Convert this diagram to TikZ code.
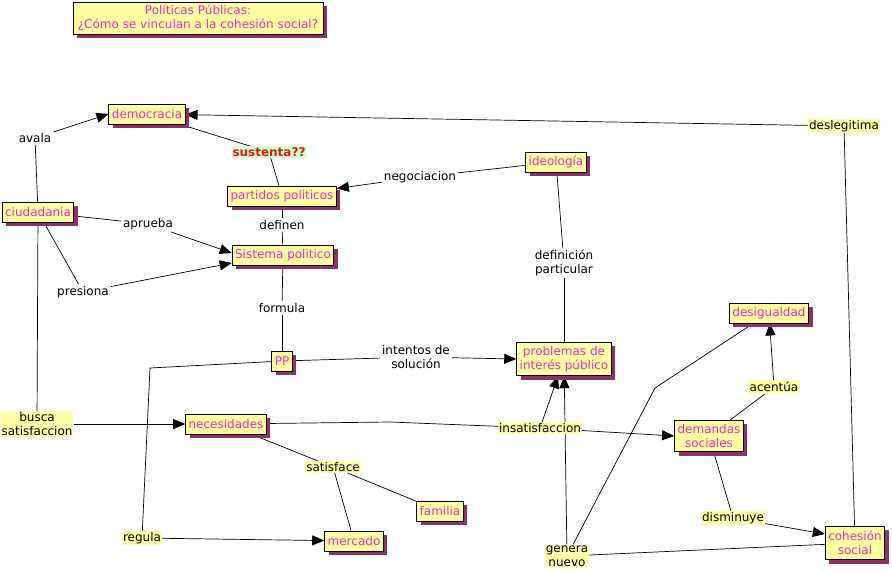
\documentclass[tikz,border=0pt]{standalone}
\usepackage{fontspec}
\setmainfont{DejaVu Sans}
\usetikzlibrary{arrows.meta,shadows,backgrounds}
\definecolor{boxy}{RGB}{255,255,160}
\definecolor{laby}{RGB}{255,255,170}
\definecolor{pinkc}{RGB}{240,40,200}
\definecolor{shadowc}{RGB}{140,50,100}
\definecolor{greenbg}{RGB}{215,250,215}
\definecolor{redt}{RGB}{215,30,10}
\begin{document}
\begin{tikzpicture}[x=1pt,y=-1pt,font=\fontsize{12}{14}\selectfont,
  concept/.style={draw=black,line width=0.9pt,fill=boxy,text=pinkc,inner xsep=3pt,inner ysep=2pt,minimum height=20pt,align=center,
    drop shadow={shadow xshift=4pt,shadow yshift=-4pt,fill=shadowc,opacity=1}},
  tall/.style={inner ysep=4pt},
  lab/.style={inner sep=2pt,text=black,align=center},
  ylab/.style={lab,fill=laby},
  conn/.style={line width=0.7pt,draw=black},
  arr/.style={conn,-{Triangle[length=12pt,width=10pt]}}]
\useasboundingbox (0,0) rectangle (892,571);

% concepts
\node[concept,minimum width=250pt,minimum height=32pt] (title) at (198,18) {Políticas Públicas:\\¿Cómo se vinculan a la cohesión social?};
\node[concept] (demo) at (147,114) {democracia};
\node[concept] (ciud) at (38,212) {ciudadania};
\node[concept] (part) at (282,196) {partidos politicos};
\node[concept] (ideo) at (556,162) {ideología};
\node[concept] (sist) at (283,255) {Sistema politico};
\node[concept] (pp) at (282,361) {PP};
\node[concept,tall] (prob) at (564,359) {problemas de\\interés público};
\node[concept] (desig) at (769,313) {desigualdad};
\node[concept] (nece) at (226,424) {necesidades};
\node[concept,tall] (dema) at (709,436) {demandas\\sociales};
\node[concept] (fami) at (440,511) {familia};
\node[concept] (merc) at (354,541) {mercado};
\node[concept,tall,inner ysep=5pt] (cohe) at (855,543) {cohesión\\social};

% link labels
\node[lab] (avala) at (35,138) {avala};
\node[lab,fill=greenbg,text=redt,font=\fontsize{12}{14}\selectfont\bfseries,inner sep=1pt] (sust) at (269,152) {sustenta??};
\node[lab] (nego) at (420,177) {negociacion};
\node[lab] (defi) at (282,225) {definen};
\node[lab] (aprueba) at (148,224) {aprueba};
\node[lab] (pres) at (83,292) {presiona};
\node[lab] (form) at (282,308) {formula};
\node[lab] (defp) at (564,263) {definición\\particular};
\node[lab] (inte) at (416,357) {intentos de\\solución};
\node[ylab] (acen) at (774,387) {acentúa};
\node[ylab,inner sep=1pt] (busca) at (37,424) {busca\\satisfaccion};
\node[ylab,inner sep=1pt] (insat) at (540,428) {insatisfaccion};
\node[ylab,inner sep=1pt] (satis) at (333,467) {satisface};
\node[ylab,inner sep=1pt] (regula) at (142,538) {regula};
\node[ylab,inner sep=1pt] (dism) at (733,518) {disminuye};
\node[ylab,inner sep=1pt] (gen) at (567,556) {genera\\nuevo};
\node[ylab,inner sep=1pt] (desl) at (844,126) {deslegitima};

\coordinate (bendN) at (390,422);
\coordinate (bendD) at (655,388);
\coordinate (bendP) at (150,368);

\begin{pgfonlayer}{background}
\draw[conn] (ciud) -- (avala);
\draw[arr] (avala) -- (demo.west);
\draw[conn] (demo) -- (sust);
\draw[conn] (sust) -- (part);
\draw[conn] (ideo) -- (nego);
\draw[arr] (nego) -- (part);
\draw[conn] (part) -- (defi);
\draw[conn] (defi) -- (sist);
\draw[conn] (ciud) -- (aprueba);
\draw[arr] (aprueba) -- ([yshift=2pt]sist.west);
\draw[conn] (ciud) -- (pres);
\draw[arr] (pres) -- ([yshift=-8pt]sist.west);
\draw[conn] (sist) -- (form);
\draw[conn] (form) -- (pp);
\draw[conn] (ideo) -- (defp);
\draw[conn] (defp) -- (prob);
\draw[conn] (pp) -- (inte);
\draw[arr] (inte) -- (prob.west);
\draw[conn] (ciud) -- (busca);
\draw[arr] (busca) -- (nece);
\draw[conn] (nece) -- (bendN) -- (insat);
\draw[arr] (insat) -- (dema.west);
\draw[arr] (insat) -- (prob);
\draw[arr] (gen) -- (prob);
\draw[conn] (desig) -- (bendD) -- (gen);
\draw[conn] (dema) -- (acen);
\draw[arr] (acen) -- (desig);
\draw[conn] (dema) -- (dism);
\draw[arr] (dism) -- ([yshift=9pt]cohe.west);
\draw[conn] (cohe) -- (gen);
\draw[conn] (cohe) -- (desl);
\draw[arr] (desl) -- (demo);
\draw[conn] (pp) -- (bendP) -- (regula);
\draw[arr] (regula) -- (merc);
\draw[conn] (nece) -- (satis);
\draw[conn] (satis) -- (merc);
\draw[conn] (satis) -- (fami);
\end{pgfonlayer}
\end{tikzpicture}
\end{document}
